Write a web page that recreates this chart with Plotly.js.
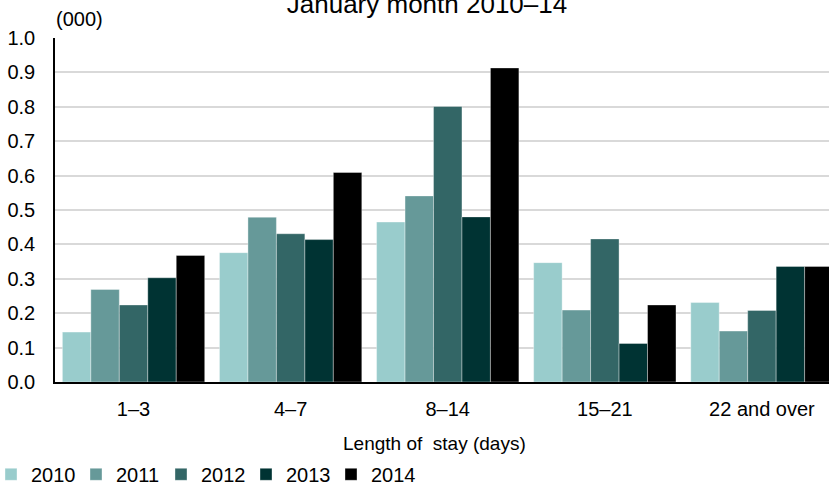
<!DOCTYPE html>
<html>
<head>
<meta charset="utf-8">
<script src="https://cdn.plot.ly/plotly-3.0.1.min.js"></script>
<style>html,body{margin:0;padding:0;background:#fff;}#chart{width:829px;height:486px;}</style>
</head>
<body>
<div id="chart"></div>
<script>
const categories = ["1–3", "4–7", "8–14", "15–21", "22 and over"];
const years = ["2010", "2011", "2012", "2013", "2014"];
const v2010 = [0.145, 0.376, 0.465, 0.347, 0.231];
const v2011 = [0.269, 0.479, 0.541, 0.209, 0.148];
const v2012 = [0.224, 0.431, 0.801, 0.416, 0.208];
const v2013 = [0.303, 0.414, 0.480, 0.112, 0.336];
const v2014 = [0.368, 0.609, 0.913, 0.224, 0.336];
const yTicks = [0, 0.1, 0.2, 0.3, 0.4, 0.5, 0.6, 0.7, 0.8, 0.9, 1.0];
const colors = ["#99CCCC", "#669999", "#336666", "#003333", "#000000"];

const seriesValues = [v2010, v2011, v2012, v2013, v2014];
const xIdx = categories.map((c, i) => i);

const traces = years.map((yr, k) => ({
  type: "bar",
  name: yr,
  x: xIdx,
  y: seriesValues[k],
  marker: {color: colors[k], line: {color: "rgba(255,255,255,0.6)", width: 0.6}},
  hoverinfo: "y+name"
}));

const FONT = "Liberation Sans, Arial, sans-serif";

const layout = {
  width: 829, height: 486,
  margin: {l: 55, r: 0, t: 37.7, b: 104.3, autoexpand: false},
  paper_bgcolor: "#fff", plot_bgcolor: "#fff",
  font: {family: FONT, size: 20, color: "#000"},
  barmode: "group",
  bargap: 0.094,
  bargroupgap: 0,
  title: {
    text: "January month 2010–14",
    font: {family: FONT, size: 26, color: "#000"},
    x: 427 / 829, xanchor: "center", xref: "container",
    y: 1 - 13 / 486, yanchor: "bottom", yref: "container"
  },
  xaxis: {
    type: "linear",
    range: [-0.5, 4.427],
    tickvals: xIdx,
    ticktext: categories,
    showgrid: false,
    zeroline: false,
    showline: true, linecolor: "#000", linewidth: 1.5,
    ticks: "",
    ticklabelstandoff: 8,
    tickfont: {family: FONT, size: 20, color: "#000"}
  },
  yaxis: {
    range: [0, 1.0],
    tickvals: yTicks,
    tickformat: ".1f",
    showgrid: true, gridcolor: "#D9D9D9", gridwidth: 1.5,
    zeroline: false,
    showline: true, linecolor: "#000", linewidth: 1.5,
    ticks: "",
    ticklabelstandoff: 14,
    tickfont: {family: FONT, size: 20, color: "#000"}
  },
  showlegend: true,
  legend: {
    orientation: "h",
    xref: "paper", yref: "paper",
    x: (-9 - 55) / 774, xanchor: "left",
    y: -(474 - 381.7) / 344, yanchor: "middle",
    entrywidth: 40, entrywidthmode: "pixels",
    itemclick: false, itemdoubleclick: false,
    font: {family: FONT, size: 20, color: "#000"},
    bgcolor: "rgba(0,0,0,0)",
    traceorder: "normal"
  },
  annotations: [
    {
      text: "(000)", xref: "paper", yref: "paper",
      x: (79 - 55) / 774, y: 1 + (37.7 - 19) / 344,
      xanchor: "center", yanchor: "middle", showarrow: false,
      font: {family: FONT, size: 20, color: "#000"}
    },
    {
      text: "Length of\u00A0 stay (days)", xref: "paper", yref: "paper",
      x: (434.5 - 55) / 774, y: -(443 - 381.7) / 344,
      xanchor: "center", yanchor: "middle", showarrow: false,
      font: {family: FONT, size: 19, color: "#000"}
    }
  ]
};

Plotly.newPlot("chart", traces, layout, {displayModeBar: false});
</script>
</body>
</html>
